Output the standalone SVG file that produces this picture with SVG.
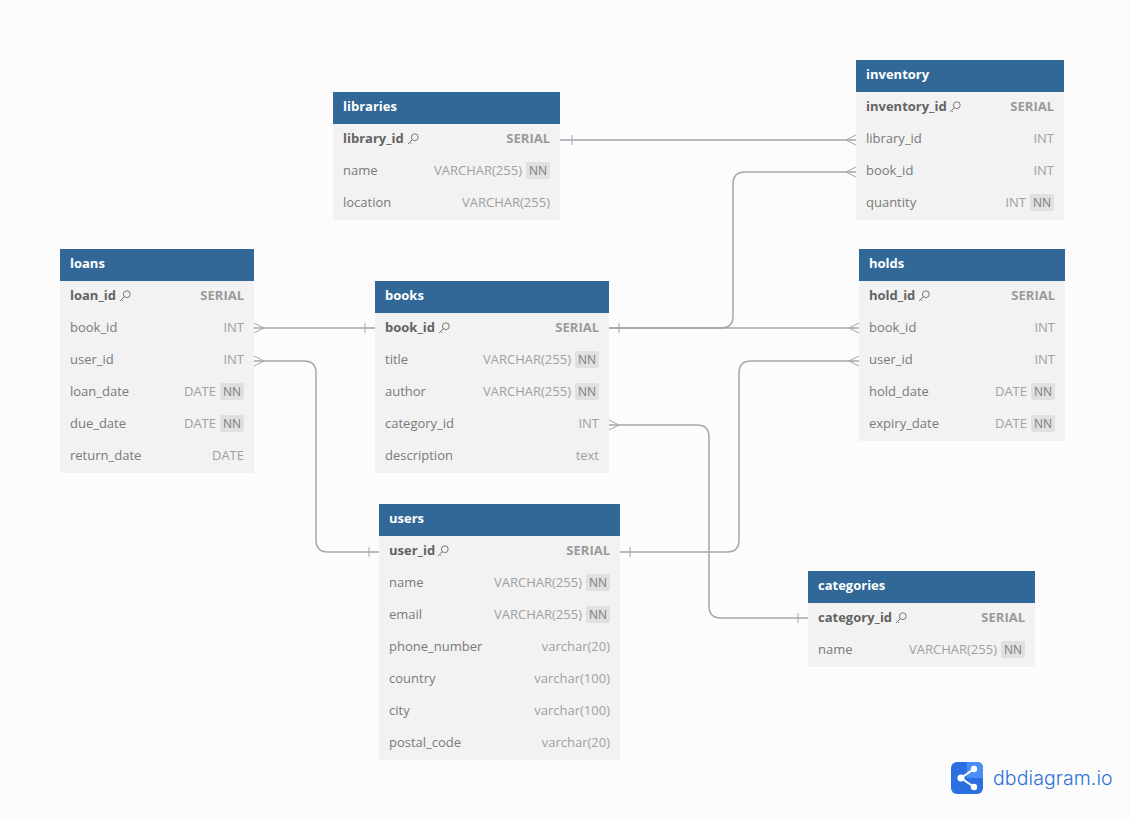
<svg xmlns="http://www.w3.org/2000/svg" width="1130" height="820" viewBox="0 0 1130 820">
<style>
text{font-family:"Open Sans","Noto Sans","Liberation Sans",sans-serif;font-size:13px}
.body{fill:#f2f2f2}
.head{fill:#316897}
.title{fill:#fff;font-weight:700}
.f{fill:#7a7a7a}
.pk{fill:#636363;font-weight:700}
.t{fill:#a0a0a0;text-anchor:end}
.tb{fill:#9a9a9a;text-anchor:end;font-weight:700}
.nnb{fill:#e0e0e0}
.nn{fill:#7d7d7d;font-size:12px;text-anchor:middle}
.k{fill:none;stroke:#777;stroke-width:1}
.c{fill:none;stroke:#a5a5af;stroke-width:1.5}
.m{fill:none;stroke:#a5a5af;stroke-width:1}
</style>
<defs>
<g id="key" class="k"><circle cx="1.8" cy="-1.8" r="3.4"/><path d="M-.6 .6L-5 5M-3.4 3.4L-2 4.8"/></g>
</defs>
<rect width="1130" height="820" fill="#fcfcfc"/>
<g id="connectors">
<path class="c" d="M560 140H856"/><path class="m" d="M572 135V145M856 135L846 140L856 145"/>
<path class="c" d="M609 328H721Q733 328 733 316V184Q733 172 745 172H856"/><path class="m" d="M619 323V333M856 167L846 172L856 177"/>
<path class="c" d="M609 328H859"/><path class="m" d="M859 323L849 328L859 333"/>
<path class="c" d="M254 328H375"/><path class="m" d="M254 323L264 328L254 333M365 323V333"/>
<path class="c" d="M254 361H304Q316 361 316 373V540Q316 552 328 552H379"/><path class="m" d="M254 356L264 361L254 366M369 547V557"/>
<path class="c" d="M620 552H727Q739 552 739 540V373Q739 361 751 361H859"/><path class="m" d="M630 547V557M859 356L849 361L859 366"/>
<path class="c" d="M609 425H697Q709 425 709 437V606Q709 618 721 618H808"/><path class="m" d="M609 420L619 425L609 430M798 613V623"/>
</g>
<g id="libraries">
<rect class="body" x="333" y="124" width="227" height="96"/><rect class="head" x="333" y="92" width="227" height="32"/>
<text class="title" x="343" y="111">libraries</text>
<text class="pk" x="343" y="143">library_id</text><use href="#key" x="413" y="139"/><text class="tb" x="550" y="143">SERIAL</text>
<text class="f" x="343" y="175">name</text><text class="t" x="522" y="175">VARCHAR(255)</text><rect class="nnb" x="526" y="162" width="24" height="17" rx="2"/><text class="nn" x="538" y="175">NN</text>
<text class="f" x="343" y="207">location</text><text class="t" x="550" y="207">VARCHAR(255)</text>
</g>
<g id="inventory">
<rect class="body" x="856" y="92" width="208" height="128"/><rect class="head" x="856" y="60" width="208" height="32"/>
<text class="title" x="866" y="79">inventory</text>
<text class="pk" x="866" y="111">inventory_id</text><use href="#key" x="955" y="107"/><text class="tb" x="1054" y="111">SERIAL</text>
<text class="f" x="866" y="143">library_id</text><text class="t" x="1054" y="143">INT</text>
<text class="f" x="866" y="175">book_id</text><text class="t" x="1054" y="175">INT</text>
<text class="f" x="866" y="207">quantity</text><text class="t" x="1026" y="207">INT</text><rect class="nnb" x="1030" y="194" width="24" height="17" rx="2"/><text class="nn" x="1042" y="207">NN</text>
</g>
<g id="loans">
<rect class="body" x="60" y="281" width="194" height="192"/><rect class="head" x="60" y="249" width="194" height="32"/>
<text class="title" x="70" y="268">loans</text>
<text class="pk" x="70" y="300">loan_id</text><use href="#key" x="125" y="296"/><text class="tb" x="244" y="300">SERIAL</text>
<text class="f" x="70" y="332">book_id</text><text class="t" x="244" y="332">INT</text>
<text class="f" x="70" y="364">user_id</text><text class="t" x="244" y="364">INT</text>
<text class="f" x="70" y="396">loan_date</text><text class="t" x="216" y="396">DATE</text><rect class="nnb" x="220" y="383" width="24" height="17" rx="2"/><text class="nn" x="232" y="396">NN</text>
<text class="f" x="70" y="428">due_date</text><text class="t" x="216" y="428">DATE</text><rect class="nnb" x="220" y="415" width="24" height="17" rx="2"/><text class="nn" x="232" y="428">NN</text>
<text class="f" x="70" y="460">return_date</text><text class="t" x="244" y="460">DATE</text>
</g>
<g id="books">
<rect class="body" x="375" y="313" width="234" height="160"/><rect class="head" x="375" y="281" width="234" height="32"/>
<text class="title" x="385" y="300">books</text>
<text class="pk" x="385" y="332">book_id</text><use href="#key" x="444" y="328"/><text class="tb" x="599" y="332">SERIAL</text>
<text class="f" x="385" y="364">title</text><text class="t" x="571" y="364">VARCHAR(255)</text><rect class="nnb" x="575" y="351" width="24" height="17" rx="2"/><text class="nn" x="587" y="364">NN</text>
<text class="f" x="385" y="396">author</text><text class="t" x="571" y="396">VARCHAR(255)</text><rect class="nnb" x="575" y="383" width="24" height="17" rx="2"/><text class="nn" x="587" y="396">NN</text>
<text class="f" x="385" y="428">category_id</text><text class="t" x="599" y="428">INT</text>
<text class="f" x="385" y="460">description</text><text class="t" x="599" y="460">text</text>
</g>
<g id="holds">
<rect class="body" x="859" y="281" width="206" height="160"/><rect class="head" x="859" y="249" width="206" height="32"/>
<text class="title" x="869" y="268">holds</text>
<text class="pk" x="869" y="300">hold_id</text><use href="#key" x="924" y="296"/><text class="tb" x="1055" y="300">SERIAL</text>
<text class="f" x="869" y="332">book_id</text><text class="t" x="1055" y="332">INT</text>
<text class="f" x="869" y="364">user_id</text><text class="t" x="1055" y="364">INT</text>
<text class="f" x="869" y="396">hold_date</text><text class="t" x="1027" y="396">DATE</text><rect class="nnb" x="1031" y="383" width="24" height="17" rx="2"/><text class="nn" x="1043" y="396">NN</text>
<text class="f" x="869" y="428">expiry_date</text><text class="t" x="1027" y="428">DATE</text><rect class="nnb" x="1031" y="415" width="24" height="17" rx="2"/><text class="nn" x="1043" y="428">NN</text>
</g>
<g id="users">
<rect class="body" x="379" y="536" width="241" height="224"/><rect class="head" x="379" y="504" width="241" height="32"/>
<text class="title" x="389" y="523">users</text>
<text class="pk" x="389" y="555">user_id</text><use href="#key" x="443" y="551"/><text class="tb" x="610" y="555">SERIAL</text>
<text class="f" x="389" y="587">name</text><text class="t" x="582" y="587">VARCHAR(255)</text><rect class="nnb" x="586" y="574" width="24" height="17" rx="2"/><text class="nn" x="598" y="587">NN</text>
<text class="f" x="389" y="619">email</text><text class="t" x="582" y="619">VARCHAR(255)</text><rect class="nnb" x="586" y="606" width="24" height="17" rx="2"/><text class="nn" x="598" y="619">NN</text>
<text class="f" x="389" y="651">phone_number</text><text class="t" x="610" y="651">varchar(20)</text>
<text class="f" x="389" y="683">country</text><text class="t" x="610" y="683">varchar(100)</text>
<text class="f" x="389" y="715">city</text><text class="t" x="610" y="715">varchar(100)</text>
<text class="f" x="389" y="747">postal_code</text><text class="t" x="610" y="747">varchar(20)</text>
</g>
<g id="categories">
<rect class="body" x="808" y="603" width="227" height="64"/><rect class="head" x="808" y="571" width="227" height="32"/>
<text class="title" x="818" y="590">categories</text>
<text class="pk" x="818" y="622">category_id</text><use href="#key" x="901" y="618"/><text class="tb" x="1025" y="622">SERIAL</text>
<text class="f" x="818" y="654">name</text><text class="t" x="997" y="654">VARCHAR(255)</text><rect class="nnb" x="1001" y="641" width="24" height="17" rx="2"/><text class="nn" x="1013" y="654">NN</text>
</g>
<g id="logo">
<rect x="951" y="762" width="32" height="32" rx="6" fill="#2b6fe0"/>
<path d="M967 762H977Q983 762 983 768V778H967Z" fill="#4a8ff5"/>
<path d="M974 769L961 778L974 787" fill="none" stroke="#fff" stroke-width="2"/>
<circle cx="974" cy="769" r="3.2" fill="#fff"/><circle cx="961" cy="778" r="3.6" fill="#fff"/><circle cx="974" cy="787" r="3.2" fill="#fff"/>
<text x="993" y="785" style="font-family:Inter,'Noto Sans',sans-serif;font-size:19.5px;font-weight:300;letter-spacing:.1px;fill:#2f73d8">dbdiagram.io</text>
</g>
</svg>
